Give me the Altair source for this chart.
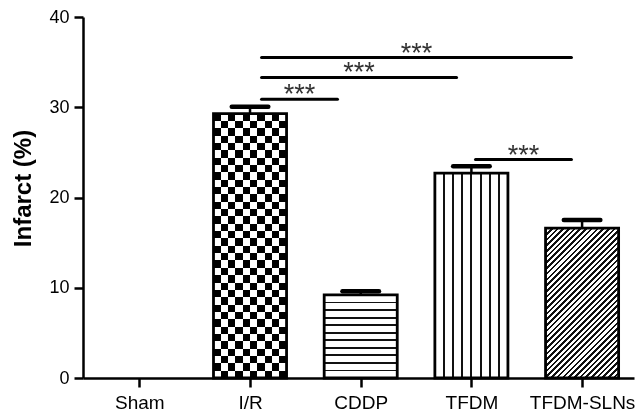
import json
import math
import altair as alt
import pandas as pd

# ---------------- data ----------------
categories = ["Sham", "I/R", "CDDP", "TFDM", "TFDM-SLNs"]
infarct = [0.0, 29.3, 9.2, 22.7, 16.6]
sem = [0.0, 0.75, 0.4, 0.75, 0.9]

# significance brackets (x in category-index units, y in % infarct)
sig_start = [1.104, 1.104, 1.104, 3.037]
sig_end = [3.904, 2.866, 1.790, 3.904]
sig_level = [35.5, 33.3, 30.9, 24.2]
sig_text = ["***", "***", "***", "***"]

# ---------------- layout / style constants ----------------
PLOT_W, PLOT_H = 551, 361
X_DOMAIN = [-0.509, 4.469]
Y_DOMAIN = [0, 40]
BAR_HALF = 0.33
CAP_HALF = 0.165
FONT = "Liberation Sans"
PX_PER_X = PLOT_W / (X_DOMAIN[1] - X_DOMAIN[0])
PX_PER_Y = PLOT_H / (Y_DOMAIN[1] - Y_DOMAIN[0])

n = len(categories)
df = pd.DataFrame({"cat": categories, "value": infarct, "err": sem})
df["idx"] = list(range(n))
df["left"] = df["idx"] - BAR_HALF
df["right"] = df["idx"] + BAR_HALF
df["zero"] = 0.0
df["top"] = df["value"] + df["err"]
df["cap_lo"] = df["idx"] - CAP_HALF
df["cap_hi"] = df["idx"] + CAP_HALF

sig = pd.DataFrame({"xs": sig_start, "xe": sig_end, "level": sig_level, "txt": sig_text})
sig["xm"] = (sig["xs"] + sig["xe"]) / 2

BAR_W_PX = 2 * BAR_HALF * PX_PER_X


def bar_h_px(cat):
    return infarct[categories.index(cat)] * PX_PER_Y


def line_stops(nper, thick, ink="#111111", paper="white"):
    stops = [{"offset": 0, "color": paper}]
    for k in range(1, nper + 1):
        c = k / nper
        s = max(0.0, c - thick / 2)
        e = min(1.0, c + thick / 2)
        stops += [{"offset": s, "color": paper}, {"offset": s, "color": ink},
                  {"offset": e, "color": ink}, {"offset": e, "color": paper}]
    stops.append({"offset": 1, "color": paper})
    return stops


def block_stops(nblocks):
    stops = []
    for j in range(nblocks):
        col = "black" if j % 2 == 0 else "white"
        stops += [{"offset": j / nblocks, "color": col}, {"offset": (j + 1) / nblocks, "color": col}]
    return stops


# checkerboard for I/R: vertical blocks XOR horizontal blocks via "difference" blend
n_cols = 10
n_rows = max(1, round(bar_h_px("I/R") / (BAR_W_PX / n_cols)))
grad_cols = {"gradient": "linear", "x1": 0, "y1": 0, "x2": 1, "y2": 0, "stops": block_stops(n_cols)}
grad_rows = {"gradient": "linear", "x1": 0, "y1": 0, "x2": 0, "y2": 1, "stops": block_stops(n_rows)}

# horizontal lines for CDDP
h_cddp = bar_h_px("CDDP")
grad_h = {"gradient": "linear", "x1": 0, "y1": 0, "x2": 0, "y2": 1,
          "stops": line_stops(max(1, round(h_cddp / 7.6)), 1.8 / h_cddp)}

# vertical lines for TFDM
grad_v = {"gradient": "linear", "x1": 0, "y1": 0, "x2": 1, "y2": 0,
          "stops": line_stops(8, 2.0 / BAR_W_PX)}

# 45-degree hatch for TFDM-SLNs
h_sln = bar_h_px("TFDM-SLNs")
r = h_sln / BAR_W_PX
span = BAR_W_PX * (1 + r * r)
period = 5.7 / span
nper = int(math.ceil(1 / period))
hatch_stops = [{"offset": 0, "color": "white"}]
for k in range(nper):
    a = k * period
    b = a + 0.45 * period
    if a >= 1:
        break
    b = min(b, 1.0)
    hatch_stops += [{"offset": a, "color": "white"}, {"offset": a, "color": "#111111"},
                    {"offset": b, "color": "#111111"}, {"offset": b, "color": "white"}]
hatch_stops.append({"offset": 1, "color": "white"})
grad_d = {"gradient": "linear", "x1": 0, "y1": 0, "x2": 1, "y2": r, "stops": hatch_stops}

# ---------------- scales & axes ----------------
xscale = alt.Scale(domain=X_DOMAIN, nice=False, zero=False)
yscale = alt.Scale(domain=Y_DOMAIN, nice=False, zero=True)

xaxis = alt.Axis(
    values=list(range(n)),
    labelExpr=f"{json.dumps(categories)}[datum.value]",
    title="", grid=False, labelFlush=False, labelOverlap=False,
    labelFont=FONT, labelFontSize=19, labelColor="black", labelPadding=6,
    tickSize=9, tickWidth=2.5, tickColor="black",
    domainColor="black", domainWidth=2.5,
)
yaxis = alt.Axis(
    values=[0, 10, 20, 30, 40], title="Infarct (%)", grid=False,
    titleFont=FONT, titleFontSize=24, titleFontWeight="bold", titleColor="black",
    titleAngle=270, titleX=-60, titleY=171, titleAlign="center", titleBaseline="middle",
    labelFont=FONT, labelFontSize=18, labelColor="black", labelPadding=5,
    tickSize=9, tickWidth=2.5, tickColor="black",
    domainColor="black", domainWidth=2.5,
)


def X(field):
    return alt.X(field, type="quantitative", scale=xscale, axis=xaxis)


def Y(field):
    return alt.Y(field, type="quantitative", scale=yscale, axis=yaxis)


base = alt.Chart(df)


def bar_enc():
    return dict(x=X("left"), x2=alt.X2("right"), y=Y("value"), y2=alt.Y2("zero"))


checker_a = base.transform_filter(alt.datum.cat == "I/R").mark_rect(
    fill=grad_cols, strokeWidth=0).encode(**bar_enc())
checker_b = base.transform_filter(alt.datum.cat == "I/R").mark_rect(
    fill=grad_rows, strokeWidth=0, blend="difference").encode(**bar_enc())
cddp = base.transform_filter(alt.datum.cat == "CDDP").mark_rect(
    fill=grad_h, strokeWidth=0).encode(**bar_enc())
tfdm = base.transform_filter(alt.datum.cat == "TFDM").mark_rect(
    fill=grad_v, strokeWidth=0).encode(**bar_enc())
sln = base.transform_filter(alt.datum.cat == "TFDM-SLNs").mark_rect(
    fill=grad_d, strokeWidth=0).encode(**bar_enc())

outline = base.transform_filter("datum.value > 0").mark_rect(
    fillOpacity=0, stroke="black", strokeWidth=2.8).encode(**bar_enc())

stem = base.transform_filter("datum.value > 0").mark_rule(
    color="black", strokeWidth=2.5).encode(x=X("idx"), y=Y("value"), y2=alt.Y2("top"))
cap = base.transform_filter("datum.value > 0").mark_rule(
    color="black", strokeWidth=4.5, strokeCap="round").encode(
    x=X("cap_lo"), x2=alt.X2("cap_hi"), y=Y("top"))

sig_base = alt.Chart(sig)
sig_lines = sig_base.mark_rule(color="black", strokeWidth=3, strokeCap="round").encode(
    x=X("xs"), x2=alt.X2("xe"), y=Y("level"))
sig_labels = sig_base.mark_text(
    font=FONT, fontSize=27, color="#333333", baseline="alphabetic", align="center", dy=4
).encode(x=X("xm"), y=Y("level"), text="txt:N")

chart = alt.layer(
    checker_a, checker_b, cddp, tfdm, sln, outline, stem, cap, sig_lines, sig_labels
).properties(
    width=PLOT_W, height=PLOT_H,
    autosize=alt.AutoSizeParams(type="none"),
    padding={"left": 75, "top": 9, "right": 2, "bottom": 35},
    background="white",
).configure_view(stroke=None)

chart.save("out.html", embed_options={"renderer": "svg", "actions": False})
